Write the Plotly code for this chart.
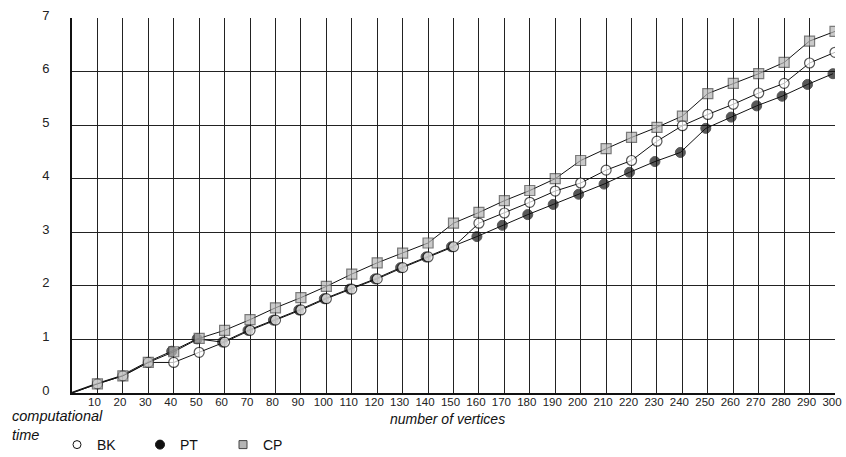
import plotly.graph_objects as go

vertices = [0, 10, 20, 30, 40, 50, 60, 70, 80, 90, 100, 110, 120, 130, 140, 150,
            160, 170, 180, 190, 200, 210, 220, 230, 240, 250, 260, 270, 280, 290, 300]
bk = [0, 0.17, 0.32, 0.57, 0.57, 0.76, 0.95, 1.17, 1.36, 1.55, 1.76, 1.94, 2.13, 2.34, 2.54, 2.73,
      3.17, 3.36, 3.56, 3.77, 3.92, 4.16, 4.34, 4.70, 4.99, 5.20, 5.39, 5.60, 5.78, 6.16, 6.36]
pt = [0, 0.17, 0.32, 0.57, 0.78, 1.01, 0.95, 1.17, 1.36, 1.55, 1.76, 1.94, 2.13, 2.34, 2.54, 2.73,
      2.92, 3.13, 3.33, 3.52, 3.71, 3.90, 4.12, 4.32, 4.49, 4.94, 5.15, 5.36, 5.54, 5.76, 5.96]
cp = [0, 0.17, 0.32, 0.57, 0.77, 1.02, 1.17, 1.37, 1.59, 1.78, 1.99, 2.22, 2.43, 2.61, 2.80, 3.17,
      3.37, 3.59, 3.78, 4.00, 4.34, 4.56, 4.77, 4.96, 5.17, 5.59, 5.78, 5.96, 6.17, 6.57, 6.75]
x_ticks = list(range(10, 301, 10))
y_ticks = list(range(0, 8))

FONT = "Liberation Sans, Arial, sans-serif"
W, H = 846, 457
L, R, T, B = 72, 11, 18, 64
PW, PH = W - L - R, H - T - B


def px_x(p):
    return (p - L) / PW


def px_y(p):
    return (H - B - p) / PH


msize = [0] + [10] * (len(vertices) - 1)
# PT markers coincide with (and are hidden under) the CP squares at the first points
pt_size = [0, 0, 0, 0] + [10] * (len(vertices) - 4)

fig = go.Figure()
# PT drawn on the base axis (slightly offset, underneath the other series)
fig.add_trace(go.Scatter(x=vertices, y=pt, mode="lines+markers", xaxis="x", showlegend=False,
                         line=dict(color="#111", width=1),
                         marker=dict(symbol="circle", size=pt_size, color="#111",
                                     line=dict(color="#111", width=1))))
fig.add_trace(go.Scatter(x=vertices, y=bk, mode="lines+markers", xaxis="x2", showlegend=False,
                         line=dict(color="#111", width=1),
                         marker=dict(symbol="circle", size=msize, color="white",
                                     line=dict(color="#111", width=1.2))))
fig.add_trace(go.Scatter(x=vertices, y=cp, mode="lines+markers", xaxis="x2", showlegend=False,
                         line=dict(color="#111", width=1),
                         marker=dict(symbol="square", size=msize, color="#b5b5b5",
                                     line=dict(color="#444", width=1.2))))

# legend entries
fig.add_trace(go.Scatter(x=[None], y=[None], mode="markers", name="BK", xaxis="x2",
                         marker=dict(symbol="circle", size=8, color="white",
                                     line=dict(color="#111", width=1))))
fig.add_trace(go.Scatter(x=[None], y=[None], mode="markers", name="PT", xaxis="x2",
                         marker=dict(symbol="circle", size=9, color="#111",
                                     line=dict(color="#111", width=1))))
fig.add_trace(go.Scatter(x=[None], y=[None], mode="markers", name="CP", xaxis="x2",
                         marker=dict(symbol="square", size=8, color="#b5b5b5",
                                     line=dict(color="#444", width=1))))

fig.update_layout(
    width=W, height=H,
    margin=dict(l=L, r=R, t=T, b=B, autoexpand=False),
    paper_bgcolor="white", plot_bgcolor="white",
    font=dict(family=FONT, size=12, color="#111"),
    xaxis=dict(range=[0.8, 300.8], visible=False, showgrid=False, zeroline=False),
    xaxis2=dict(range=[0, 300], overlaying="x", anchor="y", side="bottom",
                tickvals=x_ticks, ticktext=[str(v) for v in x_ticks],
                showgrid=True, gridcolor="#222", gridwidth=1, zeroline=False,
                showline=True, linecolor="#111", linewidth=2, ticks="",
                tickfont=dict(size=11.5, color="#222"), ticklabelstandoff=-3, ticklabelshift=-3),
    yaxis=dict(range=[0, 7], tickvals=y_ticks, showgrid=True, gridcolor="#222", gridwidth=1,
               zeroline=False, showline=True, linecolor="#111", linewidth=2, ticks="",
               tickfont=dict(size=13, color="#222"), ticklabelstandoff=18, ticklabelshift=-3),
    legend=dict(orientation="h", x=px_x(57), xref="paper",
                y=px_y(445), yanchor="middle", xanchor="left",
                entrywidth=38, entrywidthmode="pixels",
                font=dict(size=14), bgcolor="rgba(0,0,0,0)", itemwidth=30),
    annotations=[
        dict(text="<i>computational<br>time</i>", xref="paper", yref="paper",
             x=px_x(10), y=px_y(406), xanchor="left", yanchor="top",
             showarrow=False, align="left", font=dict(size=14.5)),
        dict(text="<i>number of vertices</i>", xref="paper", yref="paper",
             x=px_x(447), y=px_y(419), xanchor="center", yanchor="middle",
             showarrow=False, font=dict(size=14)),
    ],
)

fig.write_html("out.html",
               config={"displayModeBar": False},
               post_script="document.body.style.margin='0px';"
                           "document.body.style.overflow='hidden';")
